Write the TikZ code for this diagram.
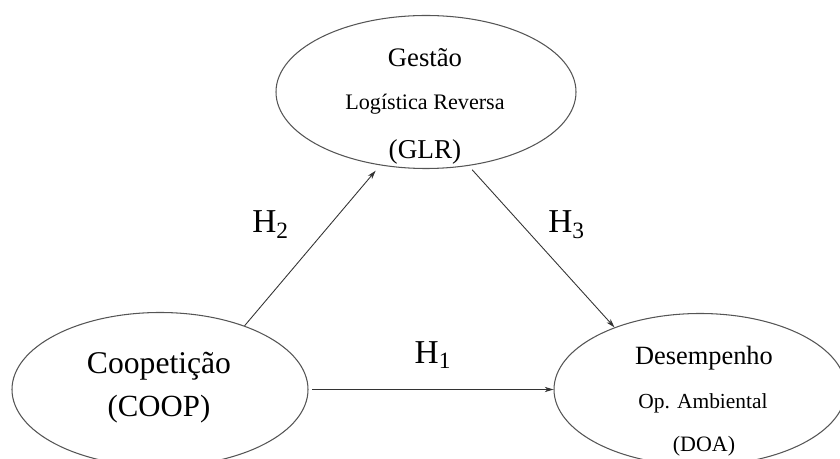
\documentclass[tikz,border=0pt]{standalone}
\usepackage{fontspec}
\setmainfont{Liberation Serif}
\usetikzlibrary{arrows.meta,positioning,shapes.geometric}
\definecolor{Edge}{HTML}{555555}

\begin{document}
\begin{tikzpicture}[>={Stealth[length=5pt,width=3pt,inset=1.5pt]},
  construct/.style={draw=Edge,ellipse,line width=0.6pt,inner sep=0pt},
  link/.style={->,draw=black!80,line width=0.5pt},
  word/.style={anchor=base,inner sep=0pt}]
  \useasboundingbox (0,0) rectangle (16.8,9.18);
  % constructs
  \node[construct,minimum width=6cm,minimum height=3.06cm] (glr) at (8.52,7.34){};
  \node[construct,minimum width=5.92cm,minimum height=3.08cm] (coop) at (3.2,1.39){};
  \node[construct,minimum width=5.84cm,minimum height=3.04cm] (doa) at (14.0,1.39){};
  % texts
  \node[word,font=\fontsize{15.2}{18}\selectfont] (glr1) at (8.50,7.84){Gestão};
  \node[word,font=\fontsize{12.6}{15}\selectfont] (glr2) at (8.50,6.98){Logística Reversa};
  \node[word,font=\fontsize{15.5}{18}\selectfont] (glr3) at (8.50,6.00){(GLR)};
  \node[word,font=\fontsize{18}{21}\selectfont] (coop1) at (3.18,1.70){Coopetição};
  \node[word,font=\fontsize{17.5}{21}\selectfont] (coop2) at (3.18,0.84){(COOP)};
  \node[word,font=\fontsize{15}{18}\selectfont] (doa1) at (14.08,1.88){Desempenho};
  \node[word,font=\fontsize{12.2}{15}\selectfont] (doa2) at (14.06,1.00){Op. Ambiental};
  \node[word,font=\fontsize{12.5}{15}\selectfont] (doa3) at (14.08,0.15){(DOA)};
  % hypotheses
  \draw[link,shorten >=4pt] (coop.37) -- (glr.238);
  \draw[link,shorten <=3pt] (glr.300) -- (doa.144);
  \draw[link,shorten <=2pt] (coop) -- (doa);
  \node[word,anchor=base west,font=\fontsize{19}{22}\selectfont] (h2) at (5.04,4.52){H\textsubscript{2}};
  \node[word,anchor=base west,font=\fontsize{19}{22}\selectfont] (h3) at (10.96,4.52){H\textsubscript{3}};
  \node[word,font=\fontsize{19}{22}\selectfont] (h1) at (8.66,1.90){H\textsubscript{1}};
\end{tikzpicture}
\end{document}
